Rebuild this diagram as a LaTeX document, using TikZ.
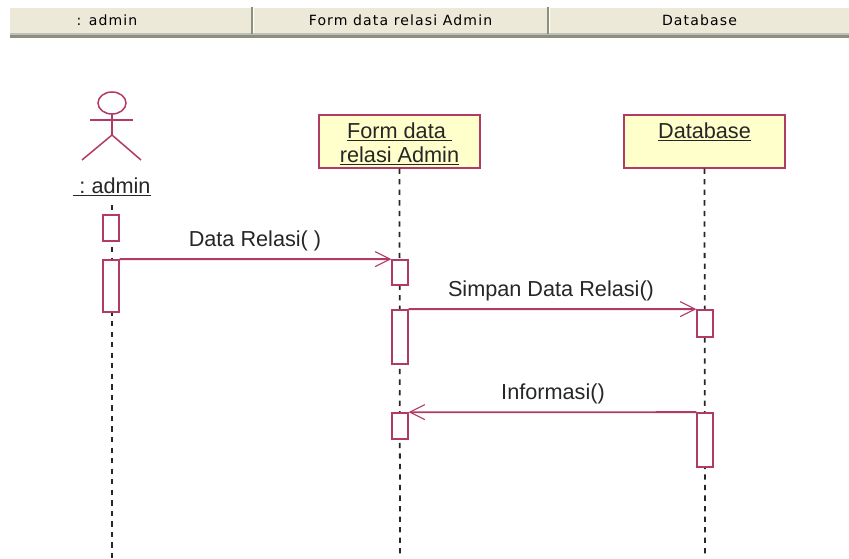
\documentclass[tikz,border=0pt]{standalone}
\usepackage{fontspec}
\setmainfont{Liberation Sans}
\newfontfamily\headfont[LetterSpace=8]{DejaVu Sans}
\usetikzlibrary{arrows.meta}
\definecolor{umlline}{HTML}{B23A66}
\definecolor{umlfill}{HTML}{FFFFCC}
\definecolor{headfill}{HTML}{ECE9D8}
\definecolor{headedge}{HTML}{8E8E7C}
\tikzset{
  headcell/.style={fill=headfill,minimum height=.75cm,inner sep=0pt,font=\headfont\fontsize{12}{14}\selectfont,text=black},
  objbox/.style={draw=umlline,fill=umlfill,line width=1.6pt,minimum width=4.84cm,minimum height=1.57cm,inner sep=0pt,align=center,font=\fontsize{18.5}{20.5}\selectfont,text=black!85},
  actv/.style={draw=umlline,fill=white,line width=1.5pt,minimum width=.46cm,inner sep=0pt},
  lifeline/.style={line width=1.5pt,black!85,dash pattern=on 4.5pt off 4.5pt},
  msg/.style={draw=umlline,line width=1.5pt,-{Straight Barb[length=.45cm,width=.45cm,line width=1pt]}},
  msglabel/.style={font=\fontsize{18.5}{22}\selectfont,text=black!85,inner sep=0pt},
  actorline/.style={draw=umlline,line width=1.3pt}
}
\begin{document}
\begin{tikzpicture}[x=.03cm,y=-.03cm]
\useasboundingbox (0,0) rectangle (849,558);
% header bar
\fill[headedge] (10,33) rectangle (849,38);
\fill[black!25] (10,33) rectangle (849,35);
\node[headcell,minimum width=7.23cm] (headadmin) at (130.5,20.5) {};
\node[headcell,minimum width=8.85cm] (headform) at (400.5,20.5) {Form data relasi Admin};
\node[headcell,minimum width=8.97cm] (headdb) at (699.5,20.5) {Database};
\node[font=\headfont\fontsize{12}{14}\selectfont,text=black,inner sep=0pt] (headadmintext) at (107,20.5) {: admin};
\fill[headedge] (251,7) rectangle (253,34) (547,7) rectangle (549,34);
\fill[white] (253,8) rectangle (254,33) (549,8) rectangle (550,33);
% actor
\draw[actorline] (112,103) ellipse (14 and 11);
\draw[actorline] (112,114)--(112,135);
\draw[actorline] (90,120)--(133,120);
\draw[actorline] (82,160)--(112,135)--(141,160);
\node[msglabel] (actorname) at (112,187) {\underline{\ :\ admin}};
% objects
\node[objbox] (formobj) at (399.5,141.5) {\rule{0pt}{17.8pt}\underline{Form data\ }\\\underline{relasi Admin}};
\node[objbox] (dbobj) at (704.5,141.5) {\underline{Database}\\[-8.5pt]\strut};
% lifelines
\coordinate (adminstart) at (112,205);
\coordinate (adminend) at (112,558);
\coordinate (formend) at (400,558);
\coordinate (dbend) at (705,558);
\draw[lifeline] (adminstart)--(adminend);
\draw[lifeline] (formobj.south)--(formend);
\draw[lifeline] (dbobj.south)--(dbend);
% activations
\node[actv,minimum height=.78cm] (admina) at (111,228) {};
\node[actv,minimum height=1.56cm] (adminb) at (111,286) {};
\node[actv,minimum height=.75cm] (forma) at (400,272.5) {};
\node[actv,minimum height=1.62cm] (formb) at (400,337) {};
\node[actv,minimum height=.78cm] (formc) at (400,426) {};
\node[actv,minimum height=.81cm] (dba) at (705,323.5) {};
\node[actv,minimum height=1.62cm] (dbb) at (705,440) {};
% messages
\draw[msg] (adminb.north east)--(forma.north west);
\draw[msg] (formb.north east)--(dba.north west);
\draw[msg] (dbb.north west)--(formc.north east);
\node[msglabel] (msgdata) at (255,241) {Data Relasi( )};
\node[msglabel] (msgsimpan) at (551,291) {Simpan Data Relasi()};
\node[msglabel] (msginfo) at (553,394) {Informasi()};
\end{tikzpicture}
\end{document}
